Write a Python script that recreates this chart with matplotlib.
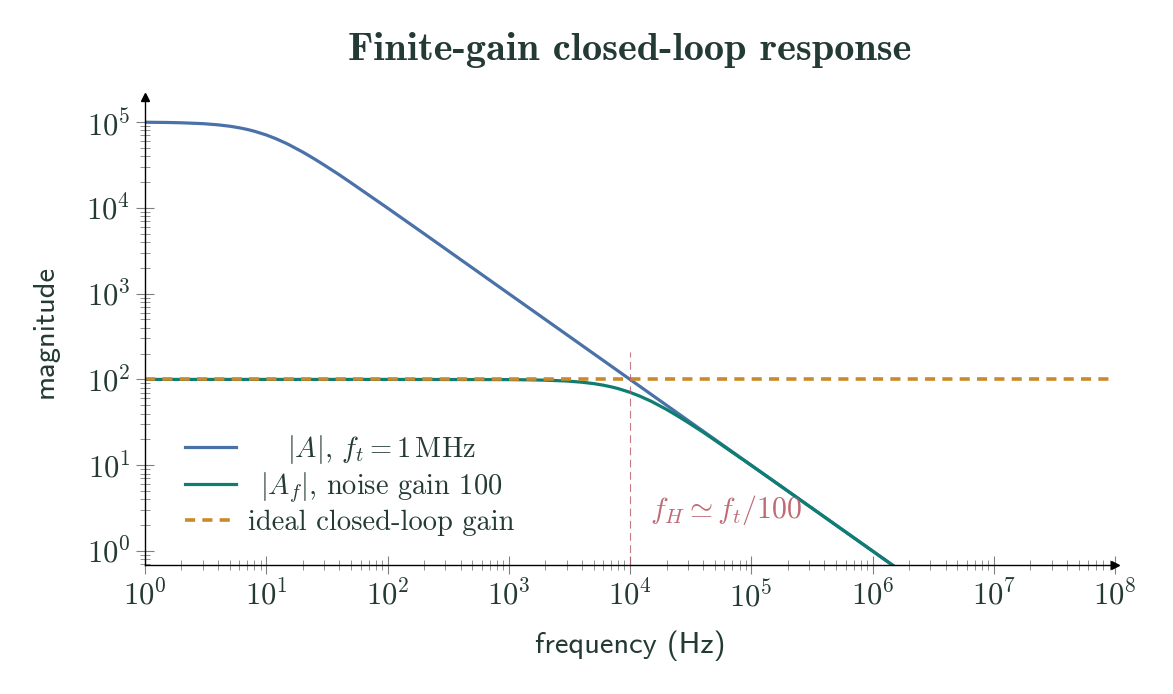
import matplotlib
matplotlib.use("Agg")
import matplotlib.pyplot as plt
from matplotlib.ticker import LogLocator, LogFormatterMathtext, NullFormatter

# values
freq_open = [1, 1.5, 2, 3, 4, 5, 6, 7, 8, 10, 12, 15, 20, 25, 30, 40, 50, 70,
             100, 200, 1e3, 1e4, 1e5, 1e6, 2e6]
gain_open = [99500, 98900, 98000, 95800, 92800, 89400, 85700, 81900, 78100,
             70700, 64000, 55500, 44700, 37100, 31600, 24300, 19600, 14100,
             9950, 5000, 1000, 100, 10, 1.0, 0.5]

freq_closed = [1, 1e2, 1e3, 1.5e3, 2e3, 3e3, 4e3, 5e3, 6e3, 7e3, 8e3, 1e4,
               1.2e4, 1.5e4, 2e4, 2.5e4, 3e4, 4e4, 5e4, 7e4, 1e5, 2e5, 1e6, 2e6]
gain_closed = [100, 100, 99.5, 98.9, 98.0, 95.8, 92.8, 89.4, 85.7, 81.9, 78.1,
               70.7, 64.0, 55.5, 44.7, 37.1, 31.6, 24.3, 19.6, 14.1, 9.95,
               5.0, 1.0, 0.5]

freq_ideal = [1, 1e8]
gain_ideal = [100, 100]

f_H = 1e4

txt = "#243a35"
blue = "#4a72a8"
teal = "#0e7d72"
orange = "#c98a2b"
rose = "#b85a66"

plt.rcParams["mathtext.fontset"] = "cm"
plt.rcParams["font.family"] = ["cmr10", "DejaVu Serif"]
plt.rcParams["axes.formatter.use_mathtext"] = True

fig = plt.figure(figsize=(11.73, 6.94), dpi=100)
ax = fig.add_axes([0.1236, 0.1859, 0.8270, 0.6741])

ax.plot(freq_open, gain_open, color=blue, lw=2.3, label=r"$|A|$, $f_t = 1\,\mathrm{MHz}$")
ax.plot(freq_closed, gain_closed, color=teal, lw=2.3, label=r"$|A_f|$, noise gain 100")
ax.plot(freq_ideal, gain_ideal, color=orange, lw=2.6, ls=(0, (2.8, 2.0)),
        label="ideal closed-loop gain")

ax.plot([f_H, f_H], [0.5, 206], color=rose, lw=0.8, ls=(0, (7, 4)), alpha=0.8)
ax.text(1.45e4, 3.0, r"$f_H \simeq f_t/100$", color=rose, alpha=0.9,
        fontsize=21.5, va="center", ha="left")

ax.set_xscale("log")
ax.set_yscale("log")
ax.set_xlim(1, 1e8)
ax.set_ylim(0.687, 1.95e5)

ax.xaxis.set_major_locator(LogLocator(base=10, numticks=20))
ax.xaxis.set_minor_locator(LogLocator(base=10, subs=range(2, 10), numticks=20))
ax.yaxis.set_major_locator(LogLocator(base=10, numticks=20))
ax.yaxis.set_minor_locator(LogLocator(base=10, subs=range(2, 10), numticks=20))
ax.xaxis.set_major_formatter(LogFormatterMathtext())
ax.yaxis.set_major_formatter(LogFormatterMathtext())
ax.xaxis.set_minor_formatter(NullFormatter())
ax.yaxis.set_minor_formatter(NullFormatter())

ax.tick_params(which="major", direction="inout", length=13, width=0.8,
               color="#808080", labelsize=22, labelcolor=txt, pad=4)
ax.tick_params(which="minor", direction="inout", length=7, width=0.6,
               color="#808080")

for s in ["top", "right"]:
    ax.spines[s].set_visible(False)
ax.spines["left"].set_linewidth(1.0)
ax.spines["bottom"].set_linewidth(1.0)
ax.plot(1, 0, ">k", ms=6, transform=ax.transAxes, clip_on=False)
ax.plot(0, 1, "^k", ms=6, transform=ax.transAxes, clip_on=False)

ax.set_title("Finite-gain closed-loop response", family="cmb10", fontsize=29,
             color=txt, pad=27)
ax.set_xlabel("frequency (Hz)", family="cmss10", fontsize=22, color=txt, labelpad=13)
ax.set_ylabel("magnitude", family="cmss10", fontsize=22, color=txt, labelpad=20)

leg = ax.legend(loc="lower left", bbox_to_anchor=(0.015, 0.008), frameon=False,
                handlelength=1.8, handletextpad=0.4, labelspacing=0.15,
                prop={"family": "cmr10", "size": 20.5})
for t in leg.get_texts():
    t.set_color(txt)

# centre the legend labels on one another, as in the reference
fig.canvas.draw()
widths = [t.get_window_extent().width for t in leg.get_texts()]
for t, w in zip(leg.get_texts(), widths):
    t.set_x((max(widths) - w) / 2)

fig.savefig("out.png", dpi=100)
